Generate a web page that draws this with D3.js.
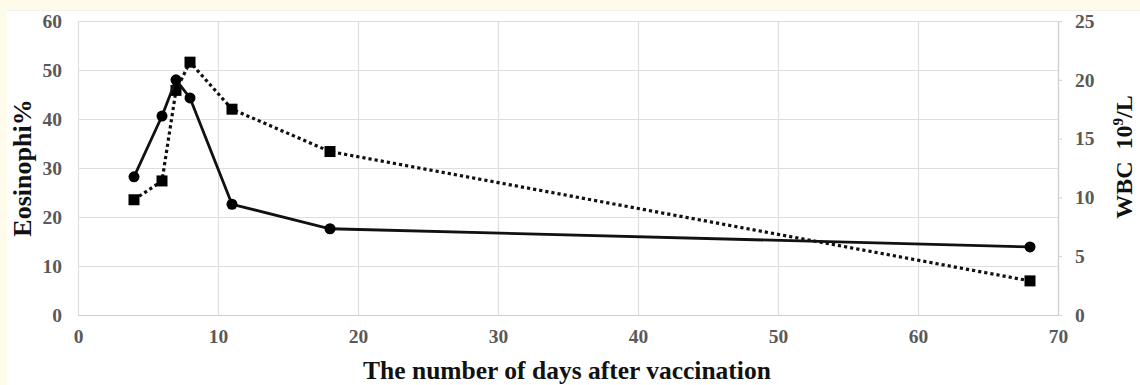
<!DOCTYPE html>
<html>
<head>
<meta charset="utf-8">
<script src="https://cdn.jsdelivr.net/npm/d3@7"></script>
<style>
  html, body { margin: 0; padding: 0; background: #FFFBEA; }
  svg { display: block; }
</style>
</head>
<body>
<svg id="chart" width="1140" height="385"></svg>
<script>
// ---- data ----
const days = [4, 6, 7, 8, 11, 18, 68];
const eosinophilPct = [28.2, 40.6, 48.0, 44.3, 22.6, 17.6, 13.9];   // left axis, solid line, circles
const wbc = [9.8, 11.4, 19.1, 21.5, 17.5, 13.9, 2.9];                // right axis, dotted line, squares
const xTicks = [0, 10, 20, 30, 40, 50, 60, 70];
const leftTicks = [0, 10, 20, 30, 40, 50, 60];
const rightTicks = [0, 5, 10, 15, 20, 25];
const xTitle = "The number of days after vaccination";
const leftTitle = "Eosinophi%";

const svg = d3.select("#chart");
const W = 1140, H = 385;
const plot = { left: 78, right: 1058, top: 21, bottom: 315 };

svg.append("rect").attr("x", 7).attr("y", 10).attr("width", W - 7).attr("height", H - 10).attr("fill", "#ffffff");
svg.append("line").attr("x1", 7).attr("x2", W).attr("y1", 10.5).attr("y2", 10.5).attr("stroke", "#f2f2f2");

const x = d3.scaleLinear().domain([0, 70]).range([plot.left, plot.right]);
const yL = d3.scaleLinear().domain([0, 60]).range([plot.bottom, plot.top]);
const yR = d3.scaleLinear().domain([0, 25]).range([plot.bottom, plot.top]);

const gridColor = "#dedede";
const tickColor = "#595959";
const font = "'Liberation Serif', 'Times New Roman', serif";
const tickSize = 19.5;

// gridlines
svg.append("g").selectAll("line").data(leftTicks).join("line")
  .attr("x1", plot.left).attr("x2", plot.right)
  .attr("y1", d => Math.round(yL(d)) + 0.5).attr("y2", d => Math.round(yL(d)) + 0.5)
  .attr("stroke", gridColor).attr("stroke-width", 1.2);
svg.append("g").selectAll("line").data(xTicks).join("line")
  .attr("x1", d => Math.round(x(d)) + 0.5).attr("x2", d => Math.round(x(d)) + 0.5)
  .attr("y1", plot.top).attr("y2", plot.bottom)
  .attr("stroke", gridColor).attr("stroke-width", 1.2);

// bottom axis
const xAxis = svg.append("g").attr("transform", `translate(0,${plot.bottom})`)
  .call(d3.axisBottom(x).tickValues(xTicks).tickSize(0).tickPadding(14).tickFormat(d3.format("d")));
xAxis.select(".domain").attr("stroke", "#d0d0d0").attr("stroke-width", 1.2);
xAxis.selectAll("text").attr("font-family", font).attr("font-weight", "bold").attr("font-size", tickSize).attr("fill", tickColor);

// left axis
const lAxis = svg.append("g").attr("transform", `translate(${plot.left},0)`)
  .call(d3.axisLeft(yL).tickValues(leftTicks).tickSize(0).tickPadding(16).tickFormat(d3.format("d")));
lAxis.select(".domain").remove();
lAxis.selectAll("text").attr("font-family", font).attr("font-weight", "bold").attr("font-size", tickSize).attr("fill", tickColor);

// right axis
const rAxis = svg.append("g").attr("transform", `translate(${plot.right},0)`)
  .call(d3.axisRight(yR).tickValues(rightTicks).tickSize(4).tickSizeOuter(0).tickPadding(13).tickFormat(d3.format("d")));
rAxis.select(".domain").attr("stroke", "#d0d0d0").attr("stroke-width", 1.2);
rAxis.selectAll(".tick line").attr("stroke", "#d0d0d0");
rAxis.selectAll("text").attr("font-family", font).attr("font-weight", "bold").attr("font-size", tickSize).attr("fill", tickColor);

// dotted WBC line
const lineR = d3.line().x((d, i) => x(days[i])).y(d => yR(d));
svg.append("path").datum(wbc).attr("d", lineR)
  .attr("fill", "none").attr("stroke", "#111").attr("stroke-width", 3.2)
  .attr("stroke-dasharray", "3.2,3");
svg.append("g").selectAll("rect").data(wbc).join("rect")
  .attr("x", (d, i) => x(days[i]) - 5.5).attr("y", d => yR(d) - 5.5)
  .attr("width", 11).attr("height", 11).attr("fill", "#000");

// solid eosinophil line
const lineL = d3.line().x((d, i) => x(days[i])).y(d => yL(d));
svg.append("path").datum(eosinophilPct).attr("d", lineL)
  .attr("fill", "none").attr("stroke", "#111").attr("stroke-width", 2.8);
svg.append("g").selectAll("circle").data(eosinophilPct).join("circle")
  .attr("cx", (d, i) => x(days[i])).attr("cy", d => yL(d)).attr("r", 5.5).attr("fill", "#000");

// titles
svg.append("text").attr("x", 567).attr("y", 379).attr("text-anchor", "middle")
  .attr("font-family", font).attr("font-weight", "bold").attr("font-size", 25.5).attr("fill", "#111")
  .text(xTitle);

svg.append("text").attr("transform", "translate(31,168) rotate(-90)").attr("text-anchor", "middle")
  .attr("font-family", font).attr("font-weight", "bold").attr("font-size", 26).attr("fill", "#111")
  .text(leftTitle);

const rt = svg.append("text").attr("transform", "translate(1132,157) rotate(-90)").attr("text-anchor", "middle")
  .attr("font-family", font).attr("font-weight", "bold").attr("font-size", 24).attr("fill", "#111");
rt.append("tspan").text("WBC\u00a0\u00a010");
rt.append("tspan").attr("dy", -9).attr("font-size", 15).text("9");
rt.append("tspan").attr("dy", 9).text("/L");
</script>
</body>
</html>
